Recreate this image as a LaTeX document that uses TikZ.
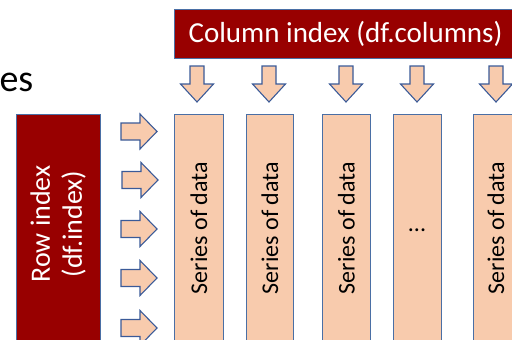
\documentclass[tikz,border=0pt]{standalone}
\usepackage{fontspec}
\setmainfont{Carlito}
\definecolor{idxred}{HTML}{980000}
\definecolor{peach}{HTML}{F8CBAD}
\definecolor{boxblue}{HTML}{4A6FA5}
\definecolor{arrblue}{HTML}{3A5A98}
\tikzset{
  idxbox/.style={draw=boxblue, line width=1pt, fill=idxred, rectangle, inner sep=0pt},
  colbox/.style={draw=boxblue, line width=1pt, fill=peach, rectangle, inner sep=0pt, minimum height=232pt},
  coltext/.style={rotate=90, text=black, font=\fontsize{24}{28}\selectfont, inner sep=0pt},
  blockarrow/.style={draw=arrblue, line width=1.1pt, fill=peach, line join=miter},
  rarrow/.pic={\path[blockarrow] (-18,-8.5) -- (1,-8.5) -- (1,-17.5) -- (18,0) -- (1,17.5) -- (1,8.5) -- (-18,8.5) -- cycle;},
  darrow/.pic={\path[blockarrow] (-7,-18) -- (7,-18) -- (7,0) -- (16.5,0) -- (0,18) -- (-16.5,0) -- (-7,0) -- cycle;}
}
\begin{document}
\begin{tikzpicture}[x=1pt,y=-1pt]
\useasboundingbox (0,0) rectangle (512,340);
% partial title
\node[anchor=base east, inner sep=0pt, font=\fontsize{38}{44}\selectfont] (title) at (33.5,91) {es};
% column index header
\node[idxbox, minimum width=340pt, minimum height=49pt, text=white,
      font=\fontsize{29}{34}\selectfont] (colidx) at (344,33.5) {\hspace{3pt}Column index (df.columns)};
% row index box
\node[idxbox, minimum width=84pt, minimum height=232pt] (rowidx) at (58,230) {};
\node[rotate=90, text=white, align=center, inner sep=0pt,
      font=\fontsize{28}{32}\selectfont] (rowtxt) at (58,224) {Row index\\(df.index)};
% columns
\node[colbox, minimum width=49pt] (c1) at (198.5,230) {};
\node[colbox, minimum width=47pt] (c2) at (269.5,230) {};
\node[colbox, minimum width=48pt] (c3) at (346,230) {};
\node[colbox, minimum width=48pt] (c4) at (417,230) {};
\node[colbox, minimum width=49pt] (c5) at (497.5,230) {};
\node[coltext] (t1) at (199,228) {Series of data};
\node[coltext] (t2) at (270,228) {Series of data};
\node[coltext] (t3) at (346.5,228) {Series of data};
\node[inner sep=0pt, font=\fontsize{24}{28}\selectfont] (t4) at (417,230) {...};
\node[coltext] (t5) at (496,228) {Series of data};
% down arrows
\foreach \x in {197,269,346,417,496} \pic at (\x,84) {darrow};
% right arrows
\pic at (139,131.5) {rarrow};
\pic at (140,180) {rarrow};
\pic at (139,229) {rarrow};
\pic at (139,278) {rarrow};
\pic at (139,328) {rarrow};
\end{tikzpicture}
\end{document}
